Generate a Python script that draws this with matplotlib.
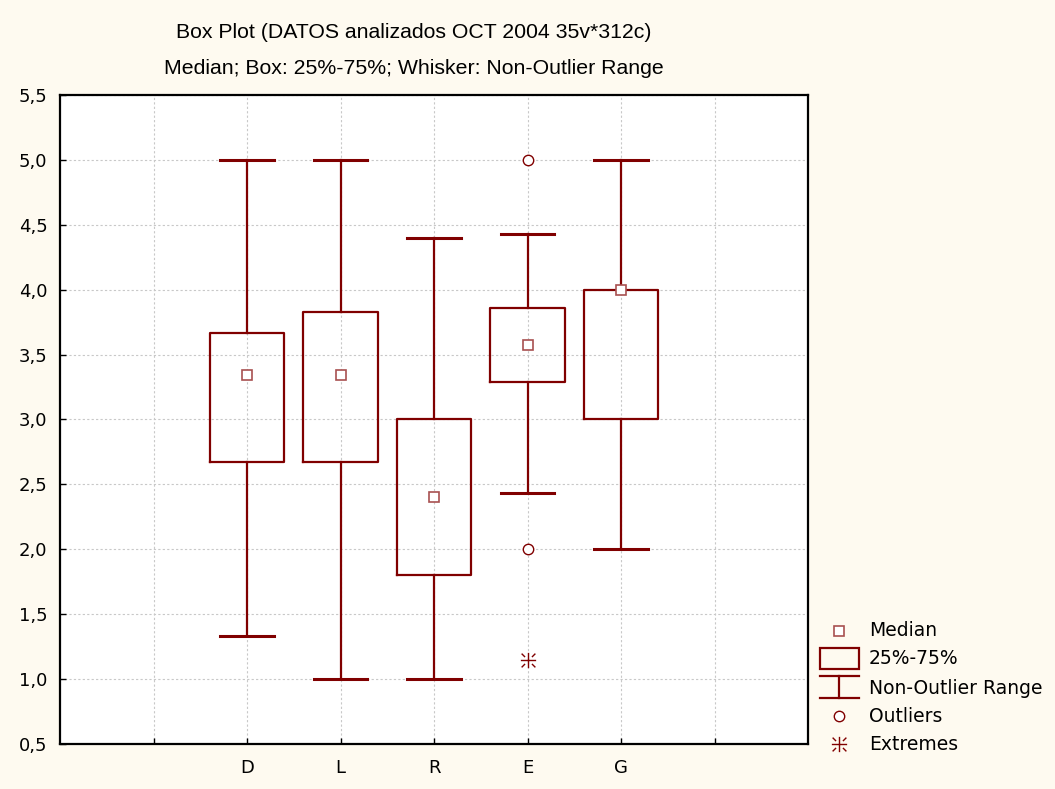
import matplotlib
matplotlib.use("Agg")
import matplotlib.pyplot as plt
from matplotlib.path import Path
from matplotlib.ticker import FuncFormatter, MultipleLocator
from matplotlib.patches import Rectangle
from matplotlib.lines import Line2D

categories = ["D", "L", "R", "E", "G"]
whisk_lo = [1.33, 1.0, 1.0, 2.43, 2.0]
q1 = [2.67, 2.67, 1.8, 3.29, 3.0]
median = [3.345, 3.345, 2.40, 3.575, 4.0]
q3 = [3.67, 3.83, 3.0, 3.86, 4.0]
whisk_hi = [5.0, 5.0, 4.4, 4.43, 5.0]
outliers = [[], [], [], [5.0, 2.0], []]
extremes = [[], [], [], [1.15], []]

title1 = "Box Plot (DATOS analizados OCT 2004 35v*312c)"
title2 = "Median; Box: 25%-75%; Whisker: Non-Outlier Range"
legend_labels = ["Median", "25%-75%", "Non-Outlier Range", "Outliers", "Extremes"]

RED = "#800000"
LRED = "#A85050"
BG = "#FEFAF0"
W, H = 1055, 789
TFONT = ["DejaVu Sans"]

fig = plt.figure(figsize=(W / 100, H / 100), dpi=100, facecolor=BG)
ax = fig.add_axes([60 / W, 1 - 744 / H, (808 - 60) / W, (744 - 95) / H])
ax.set_facecolor("white")

positions = [2, 3, 4, 5, 6]
stats = []
for i, c in enumerate(categories):
    stats.append(dict(label=c, whislo=whisk_lo[i], q1=q1[i], med=median[i],
                      q3=q3[i], whishi=whisk_hi[i], mean=median[i],
                      fliers=outliers[i]))

ax.bxp(stats, positions=positions, widths=0.8, capwidths=0.57,
       showmeans=True, showfliers=True, patch_artist=False,
       boxprops=dict(color=RED, linewidth=1.6),
       whiskerprops=dict(color=RED, linewidth=1.6),
       capprops=dict(color=RED, linewidth=2.2),
       medianprops=dict(linewidth=0, alpha=0),
       meanprops=dict(marker="s", markersize=7.2, markerfacecolor="white",
                      markeredgecolor=LRED, markeredgewidth=1.2, linestyle="none"),
       flierprops=dict(marker="o", markersize=7.5, markerfacecolor="white",
                       markeredgecolor=RED, markeredgewidth=1.0),
       zorder=3)

# extreme marker: plus with detached diagonal dashes
verts = [(-1, 0), (1, 0), (0, -1), (0, 1),
         (0.45, 0.45), (0.9, 0.9), (-0.45, 0.45), (-0.9, 0.9),
         (0.45, -0.45), (0.9, -0.9), (-0.45, -0.45), (-0.9, -0.9)]
codes = [Path.MOVETO, Path.LINETO] * 6
ext_marker = Path(verts, codes)
for p, ex in zip(positions, extremes):
    if ex:
        ax.plot([p] * len(ex), ex, linestyle="none", marker=ext_marker,
                markersize=11, markeredgecolor=RED, markeredgewidth=1.0, zorder=4)

ax.set_xlim(0, 8)
ax.set_ylim(0.5, 5.5)
ax.set_xticks(range(1, 8))
ax.set_xticklabels(["", "D", "L", "R", "E", "G", ""])
ax.yaxis.set_major_locator(MultipleLocator(0.5))
ax.yaxis.set_major_formatter(FuncFormatter(lambda v, p: f"{v:.1f}".replace(".", ",")))
ax.tick_params(direction="in", length=4, width=1.0, labelsize=13, colors="black")
ax.tick_params(axis="y", pad=9)
ax.tick_params(axis="x", pad=11)
for lab in ax.get_xticklabels() + ax.get_yticklabels():
    lab.set_family(TFONT)
ax.grid(True, color="#C8C8C8", linestyle=(0, (2, 2)), linewidth=0.8, zorder=0)
ax.set_axisbelow(True)
for s in ax.spines.values():
    s.set_linewidth(1.6)
    s.set_color("black")

fam = ["Liberation Sans Narrow", "Liberation Sans", "DejaVu Sans"]
fig.text(414 / W, 1 - 33 / H, title1, ha="center", va="center", fontsize=15.3, family=fam)
fig.text(414 / W, 1 - 68 / H, title2, ha="center", va="center", fontsize=15.3, family=fam)

# legend drawn in pixel space
lx = fig.add_axes([0, 0, 1, 1], facecolor="none")
lx.set_xlim(0, W)
lx.set_ylim(H, 0)
lx.axis("off")
ys = [631, 659, 688, 716, 744]
cx = 839
lx.plot([cx], [ys[0]], marker="s", markersize=7.2, markerfacecolor="white",
        markeredgecolor=LRED, markeredgewidth=1.2)
lx.add_patch(Rectangle((820, 648), 39, 21, fill=False, edgecolor=RED, linewidth=1.6))
lx.add_line(Line2D([820, 859], [676, 676], color=RED, linewidth=1.6))
lx.add_line(Line2D([820, 859], [698, 698], color=RED, linewidth=1.6))
lx.add_line(Line2D([cx, cx], [676, 698], color=RED, linewidth=1.6))
lx.plot([cx], [ys[3]], marker="o", markersize=7.5, markerfacecolor="white",
        markeredgecolor=RED, markeredgewidth=1.0)
lx.plot([cx], [ys[4]], marker=ext_marker, markersize=11, markeredgecolor=RED,
        markeredgewidth=1.0, linestyle="none")
for y, t in zip(ys, legend_labels):
    lx.text(869, y, t, ha="left", va="center", fontsize=13.5, family=TFONT)

fig.savefig("out.png", dpi=100, facecolor=BG)
